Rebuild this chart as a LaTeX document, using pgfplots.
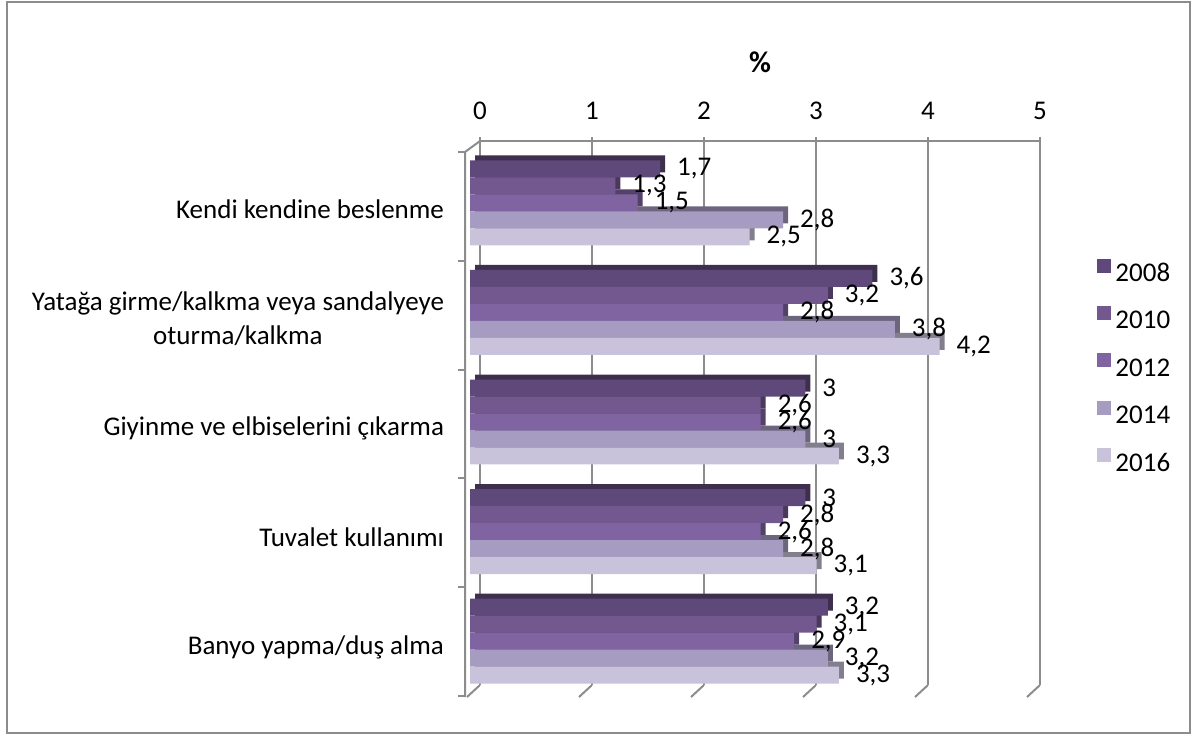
\documentclass[border=0pt]{standalone}
\usepackage{fontspec}
\setmainfont{Carlito}
\usepackage{pgfplots}
\pgfplotsset{compat=1.18}
\usepackage{pgfplotstable}
\definecolor{cA}{HTML}{5F497A}
\definecolor{cB}{HTML}{72588F}
\definecolor{cC}{HTML}{8064A2}
\definecolor{cD}{HTML}{A69BC0}
\definecolor{cE}{HTML}{C8C2DA}
\definecolor{gridc}{HTML}{8C8C8C}
\pgfplotstableread{
pos a b c d e
4 1.7 1.3 1.5 2.8 2.5
3 3.6 3.2 2.8 3.8 4.2
2 3 2.6 2.6 3 3.3
1 3 2.8 2.6 2.8 3.1
0 3.2 3.1 2.9 3.2 3.3
}\data
\newcommand\fs{\fontsize{13.5}{17}\selectfont}
\pgfplotsset{sq/.style={legend image code/.code={\fill[##1] (0pt,0.75pt) rectangle (7pt,7.75pt);}}}
\begin{document}
\begin{tikzpicture}
\begin{scope}[x=0.5pt,y=-0.5pt]
\useasboundingbox (0,0) rectangle (1197,735);
\draw[gridc, line width=1pt] (7,2) rectangle (1190,733);
\end{scope}
% back plane: grid, top axis, ticks
\begin{axis}[at={(240pt,-342.5pt)}, anchor=south west, scale only axis,
  width=280pt, height=272pt, xmin=0, xmax=5, ymin=0, ymax=1,
  xtick={0,...,5}, ytick=\empty, axis x line*=top, axis y line=none,
  x axis line style={gridc, line width=1pt, -},
  tick style={gridc, line width=1pt}, xtick align=outside, major tick length=2pt,
  xmajorgrids, major grid style={gridc, line width=1pt},
  /pgf/number format/assume math mode=true,
  xticklabel style={font=\fs, anchor=center, yshift=13pt},
  title={\textbf{\%}}, title style={font=\fontsize{15}{18}\selectfont, at={(axis description cs:0.5,1)}, anchor=center, yshift=33.5pt},
  clip=false]
\end{axis}
\begin{scope}[x=0.5pt,y=-0.5pt]
\draw[gridc, line width=1pt] (480,141) -- (465,152) -- (465,697);
\foreach \yy in {152,260.8,369.6,478.4,587.2,696} {\draw[gridc, line width=1pt] (458,\yy) -- (465,\yy);}
\foreach \k in {0,...,5} {\draw[gridc, line width=1pt] (480+112*\k,685) -- (467+112*\k,697);}
\end{scope}
% front plane: bars
\begin{axis}[at={(235pt,-348pt)}, anchor=south west, scale only axis,
  width=279.5pt, height=274pt, xmin=0, xmax=5, ymin=-0.5, ymax=4.5,
  xbar, bar width=0.155, bar shift=0pt,
  axis line style={draw=none}, xtick=\empty, ytick={0,...,4},
  yticklabels={Banyo yapma/duş alma, Tuvalet kullanımı, Giyinme ve elbiselerini çıkarma, {Yatağa girme/kalkma veya sandalyeye\\oturma/kalkma}, Kendi kendine beslenme},
  major tick length=0pt,
  yticklabel style={font=\fs, align=center, xshift=-9.5pt, yshift=-3pt},
  /pgf/number format/use comma,
  /pgf/number format/assume math mode=true,
  nodes near coords style={font=\fs, text=black, anchor=west, xshift=5pt, yshift=0pt},
  clip=false,
  legend style={draw=none, fill=none, at={(1.111,0.598)}, anchor=west, font=\fs, row sep=8.75pt},
  legend cell align=left]
\addplot[draw=none, fill=cA!65!black, xshift=2.5pt, yshift=2.5pt, forget plot] table[x=a, y expr=\thisrow{pos}+0.31] {\data};
\addplot[draw=none, fill=cB!65!black, xshift=2.5pt, yshift=2.5pt, forget plot] table[x=b, y expr=\thisrow{pos}+0.155] {\data};
\addplot[draw=none, fill=cC!65!black, xshift=2.5pt, yshift=2.5pt, forget plot] table[x=c, y expr=\thisrow{pos}] {\data};
\addplot[draw=none, fill=cD!65!black, xshift=2.5pt, yshift=2.5pt, forget plot] table[x=d, y expr=\thisrow{pos}-0.155] {\data};
\addplot[draw=none, fill=cE!65!black, xshift=2.5pt, yshift=2.5pt, forget plot] table[x=e, y expr=\thisrow{pos}-0.31] {\data};
\addplot[draw=none, fill=cA, sq, nodes near coords, point meta=x] table[x=a, y expr=\thisrow{pos}+0.31] {\data};
\addplot[draw=none, fill=cB, sq, nodes near coords, point meta=x] table[x=b, y expr=\thisrow{pos}+0.155] {\data};
\addplot[draw=none, fill=cC, sq, nodes near coords, point meta=x] table[x=c, y expr=\thisrow{pos}] {\data};
\addplot[draw=none, fill=cD, sq, nodes near coords, point meta=x] table[x=d, y expr=\thisrow{pos}-0.155] {\data};
\addplot[draw=none, fill=cE, sq, nodes near coords, point meta=x] table[x=e, y expr=\thisrow{pos}-0.31] {\data};
\legend{2008,2010,2012,2014,2016}
\end{axis}
\end{tikzpicture}
\end{document}
